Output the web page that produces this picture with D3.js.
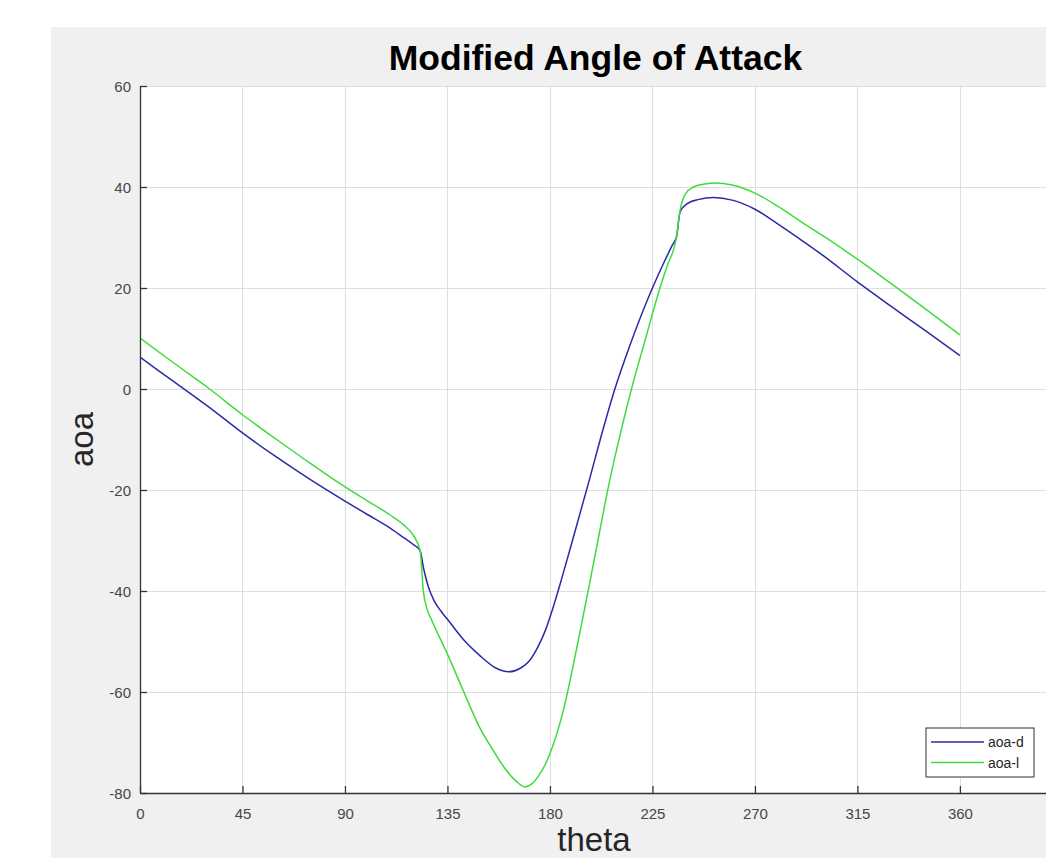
<!DOCTYPE html>
<html>
<head>
<meta charset="utf-8">
<script src="https://cdn.jsdelivr.net/npm/d3@7"></script>
<style>
  html, body { margin: 0; padding: 0; background: #ffffff; }
  svg { display: block; }
  text { font-family: "Liberation Sans", Arial, Helvetica, sans-serif; }
</style>
</head>
<body>
<svg id="chart" width="1046" height="858"></svg>
<script>
// ---- data ----
const titleText = "Modified Angle of Attack";
const xLabel = "theta";
const yLabel = "aoa";
const xTicks = [0, 45, 90, 135, 180, 225, 270, 315, 360];
const yTicks = [-80, -60, -40, -20, 0, 20, 40, 60];
const seriesNames = ["aoa-d", "aoa-l"];

const thetaD = [0, 15, 30, 45, 60, 75, 90, 100, 110, 116, 120, 123, 124.5, 126.5, 129, 132, 135, 142, 149, 156, 162, 167, 171, 175, 178, 181, 185, 190, 197.3, 203, 208.5, 215, 220, 225, 230, 233.5, 235.6, 237.1, 240, 245, 252, 260, 270, 280, 290, 300, 315, 330, 345, 360];
const aoaD   = [6.3, 1.4, -3.5, -8.7, -13.5, -18.0, -22.2, -24.9, -27.6, -29.5, -30.8, -32.0, -35.5, -39.0, -41.8, -43.9, -45.6, -49.6, -52.7, -55.2, -56.0, -55.3, -53.8, -50.8, -47.8, -43.8, -37.8, -29.8, -18.0, -8.5, 0, 8.5, 14.5, 20.0, 25.0, 28.3, 30.2, 35.0, 36.6, 37.5, 37.9, 37.4, 35.6, 32.7, 29.6, 26.4, 21.2, 16.3, 11.5, 6.6];

const thetaL = [0, 15, 30, 45, 60, 75, 90, 100, 110, 116, 120, 123, 124.4, 126, 128, 135, 142, 149, 155, 160, 165, 169, 172, 175, 178, 181, 184, 187, 191, 195, 200, 206.3, 211, 215.8, 222, 228.3, 232, 234.2, 235.6, 236.8, 239.3, 243, 248, 253, 260, 270, 280, 290, 300, 315, 330, 345, 360];
const aoaL   = [10.1, 5.1, 0.2, -5.1, -10.0, -14.8, -19.4, -22.2, -25.0, -27.0, -29.0, -32.0, -40.0, -43.5, -45.7, -52.5, -59.8, -66.9, -71.5, -75.0, -77.6, -78.8, -78.2, -76.6, -74.3, -71.0, -66.8, -61.5, -53.0, -44.0, -32.5, -18.0, -8.7, 0, 10.0, 20.0, 25.0, 27.5, 30.2, 34.5, 38.5, 40.0, 40.6, 40.8, 40.4, 38.8, 36.2, 33.2, 30.3, 25.7, 20.8, 15.8, 10.7];

const colors = ["#2a2aa8", "#3ddc3d"];

// ---- layout ----
const svg = d3.select("#chart");
const W = 1046, H = 858;
const plot = { left: 140, right: 1051, top: 86, bottom: 793 };

svg.append("rect").attr("x", 51).attr("y", 27).attr("width", W - 51).attr("height", H - 27).attr("fill", "#f0f0f0");
svg.append("rect").attr("x", plot.left).attr("y", plot.top)
  .attr("width", plot.right - plot.left).attr("height", plot.bottom - plot.top).attr("fill", "#ffffff");

const x = d3.scaleLinear().domain([0, 400]).range([plot.left, plot.right]);
const y = d3.scaleLinear().domain([-80, 60]).range([plot.bottom, plot.top]);

// grid
const grid = svg.append("g").attr("stroke", "#dedede").attr("stroke-width", 1);
grid.selectAll("line.v").data(xTicks).join("line")
  .attr("x1", d => Math.round(x(d)) + 0.5).attr("x2", d => Math.round(x(d)) + 0.5)
  .attr("y1", plot.top).attr("y2", plot.bottom);
grid.selectAll("line.h").data(yTicks).join("line")
  .attr("y1", d => Math.round(y(d)) + 0.5).attr("y2", d => Math.round(y(d)) + 0.5)
  .attr("x1", plot.left).attr("x2", plot.right);

// lines
const defs = svg.append("defs");
defs.append("clipPath").attr("id", "clip").append("rect")
  .attr("x", plot.left).attr("y", plot.top - 2).attr("width", plot.right - plot.left).attr("height", plot.bottom - plot.top + 4);

const line = d3.line().x(d => x(d[0])).y(d => y(d[1])).curve(d3.curveMonotoneX);
const series = [d3.zip(thetaD, aoaD), d3.zip(thetaL, aoaL)];
svg.append("g").attr("clip-path", "url(#clip)").selectAll("path").data(series).join("path")
  .attr("d", line).attr("fill", "none")
  .attr("stroke", (d, i) => colors[i]).attr("stroke-width", 1.5);

// axes
const fmt = d => String(d);
const xAxis = d3.axisBottom(x).tickValues(xTicks).tickFormat(fmt).tickSizeInner(-7).tickSizeOuter(0).tickPadding(15);
const yAxis = d3.axisLeft(y).tickValues(yTicks).tickFormat(fmt).tickSizeInner(-7).tickSizeOuter(0).tickPadding(9);

const gx = svg.append("g").attr("transform", `translate(0,${plot.bottom})`).call(xAxis);
const gy = svg.append("g").attr("transform", `translate(${plot.left},0)`).call(yAxis);
[gx, gy].forEach(g => {
  g.select(".domain").attr("stroke", "#333333").attr("stroke-width", 1.3);
  g.selectAll(".tick line").attr("stroke", "#333333").attr("stroke-width", 1.3);
  g.selectAll(".tick text").attr("fill", "#474747").style("font-size", "15px")
    .style("font-family", "'Liberation Sans', Arial, sans-serif");
});
gy.selectAll(".tick text").attr("dy", "0.35em");

// title & labels
svg.append("text").attr("x", (plot.left + plot.right) / 2).attr("y", 70)
  .attr("text-anchor", "middle").attr("font-weight", "bold").attr("font-size", 35.5).attr("fill", "#000")
  .text(titleText);
svg.append("text").attr("x", 594).attr("y", 851)
  .attr("text-anchor", "middle").attr("font-size", 33).attr("fill", "#262626")
  .text(xLabel);
svg.append("text").attr("transform", `translate(93,${(plot.top + plot.bottom) / 2}) rotate(-90)`)
  .attr("text-anchor", "middle").attr("font-size", 33).attr("fill", "#262626")
  .text(yLabel);

// legend
const lg = svg.append("g");
lg.append("rect").attr("x", 926).attr("y", 728).attr("width", 108).attr("height", 49)
  .attr("fill", "#ffffff").attr("stroke", "#333333").attr("stroke-width", 1);
seriesNames.forEach((name, i) => {
  const ly = 742 + i * 20.5;
  lg.append("line").attr("x1", 931).attr("x2", 984).attr("y1", ly).attr("y2", ly)
    .attr("stroke", colors[i]).attr("stroke-width", 1.5);
  lg.append("text").attr("x", 988).attr("y", ly + 5).attr("font-size", 14).attr("fill", "#262626").text(name);
});
</script>
</body>
</html>
